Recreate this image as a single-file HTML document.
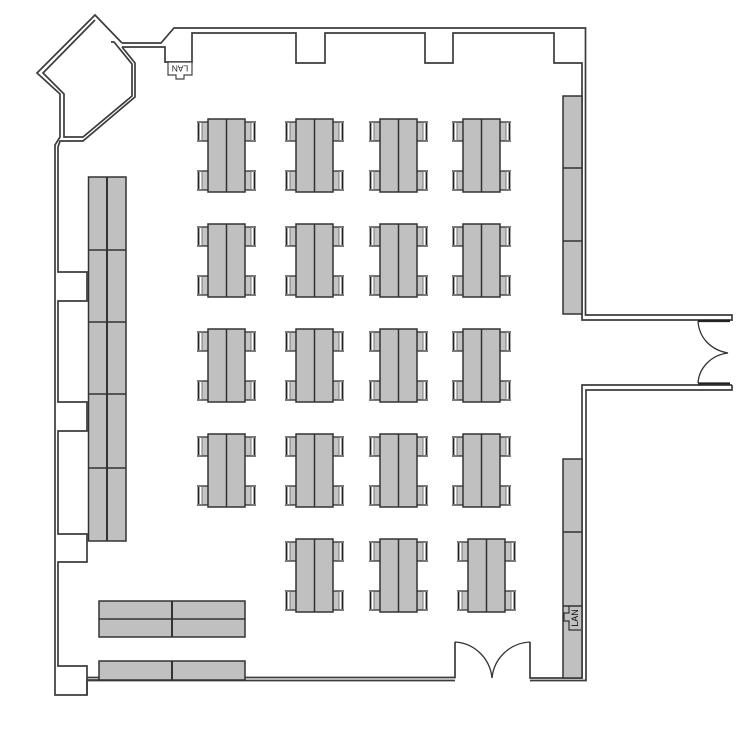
<!DOCTYPE html>
<html>
<head>
<meta charset="utf-8">
<style>
html,body{margin:0;padding:0;background:#fff;width:750px;height:750px;overflow:hidden}
svg{display:block}
text{font-family:"Liberation Sans",sans-serif}
</style>
</head>
<body>
<svg width="750" height="750" viewBox="0 0 750 750" xmlns="http://www.w3.org/2000/svg">
<defs>
<g id="desk">
  <g fill="#c4c4c4">
    <rect x="-6" y="3" width="6" height="19"/>
    <rect x="-6" y="52" width="6" height="19"/>
    <rect x="37" y="3" width="6" height="19"/>
    <rect x="37" y="52" width="6" height="19"/>
  </g>
  <g stroke="#2a2a2a" stroke-width="1.300" fill="none">
    <path d="M-11 3H0M-11 22H0M-11 52H0M-11 71H0M37 3H48M37 22H48M37 52H48M37 71H48"/>
    <path d="M-6 3V22M-6 52V71M43 3V22M43 52V71" stroke="#777" stroke-width="1"/>
  </g>
  <g stroke="#222" stroke-width="1.800" fill="none">
    <path d="M-9.500 4V21M-9.500 53V70M46.500 4V21M46.500 53V70"/>
  </g>
  <rect x="0" y="0" width="37" height="73" fill="#c0c0c0" stroke="#333" stroke-width="1.500"/>
  <path d="M18.500 0V73" stroke="#333" stroke-width="1.500"/>
</g>
</defs>

<!-- walls -->
<g fill="none" stroke="#3c3c3c" stroke-width="1.700" stroke-linejoin="miter">
  <path d="M122 43L95 15L37 73L60 94V137L55 145V695H87V680H245"/>
  <path d="M122 47L135 63V97L83 141H60L58 147V272H87V301H58V402H87V431H58V534H87V562H58V666H87V695"/>
  <path d="M95 20L43 73L64 94V137H83L132 96V64L114 42H111"/>
  <path d="M122 43H161L174 28H585.500V315H732V320H582V63H554V33H453V63H425V33H325V63H296V33H192V62H165V47H122"/>
  <path d="M732 385H582V678H530V642"/>
  <path d="M732 385V390H586V680.500H530"/>
  <path d="M87 677.500H455V642"/>
  <path d="M87 680.500H455"/>
</g>

<!-- doors -->
<g fill="none" stroke="#333" stroke-width="1.300">
  <path d="M698 321C699 338 711 350 728 353C711 355 699 368 698 383"/>
  <path d="M455 642C474 643 490 658 492 678C494 658 510 643 530 642"/>
</g>
<path d="M698 321H730M698 383.500H730" stroke="#222" stroke-width="2.200"/>

<!-- tables -->
<g fill="#c0c0c0" stroke="#333" stroke-width="1.500">
  <rect x="88.500" y="177" width="37.500" height="364"/>
  <path d="M107 177V541" stroke-width="2"/>
  <path d="M88.500 250H126M88.500 322H126M88.500 394H126M88.500 468H126"/>
  <rect x="99" y="601" width="146" height="36"/>
  <path d="M172 601V637" stroke-width="2"/>
  <path d="M99 619H245"/>
  <rect x="99" y="661" width="146" height="19"/>
  <path d="M172 661V680" stroke-width="2"/>
  <rect x="563" y="96" width="19" height="218"/>
  <path d="M563 168H582M563 241H582"/>
  <rect x="563" y="459" width="19" height="219"/>
  <path d="M563 532H582M563 606H582"/>
</g>

<!-- LAN boxes -->
<path d="M168 62H192V75H184V79H176V75H168Z" fill="#fff" stroke="#444" stroke-width="1.200"/>
<text x="0" y="0" transform="translate(180 68.500) rotate(180)" font-size="8.500" text-anchor="middle" dominant-baseline="central" fill="#222">LAN</text>
<path d="M569 606V613H564V621H569V630H581" fill="none" stroke="#333" stroke-width="1.200"/>
<text x="0" y="0" transform="translate(575 618) rotate(-90)" font-size="9" text-anchor="middle" dominant-baseline="central" fill="#111">LAN</text>

<!-- desks -->
<use href="#desk" x="208" y="119"/><use href="#desk" x="296" y="119"/><use href="#desk" x="380" y="119"/><use href="#desk" x="463" y="119"/>
<use href="#desk" x="208" y="224"/><use href="#desk" x="296" y="224"/><use href="#desk" x="380" y="224"/><use href="#desk" x="463" y="224"/>
<use href="#desk" x="208" y="329"/><use href="#desk" x="296" y="329"/><use href="#desk" x="380" y="329"/><use href="#desk" x="463" y="329"/>
<use href="#desk" x="208" y="434"/><use href="#desk" x="296" y="434"/><use href="#desk" x="380" y="434"/><use href="#desk" x="463" y="434"/>
<use href="#desk" x="296" y="539"/><use href="#desk" x="380" y="539"/><use href="#desk" x="468" y="539"/>
</svg>
</body>
</html>
